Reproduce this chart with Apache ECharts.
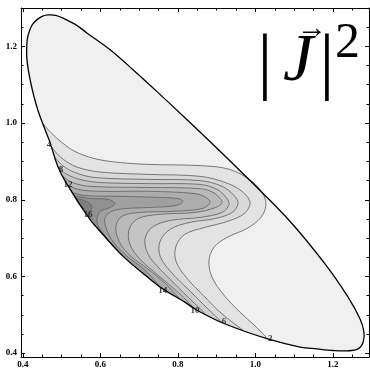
<!DOCTYPE html>
<html><head><meta charset="utf-8">
<script src="https://cdn.jsdelivr.net/npm/echarts@6/dist/echarts.min.js"></script>
<style>html,body{margin:0;padding:0;background:#fff}#c{width:370px;height:369px}</style>
</head><body><div id="c"></div>
<script>
// ---- axis ticks ----
const xTicks = [0.4, 0.6, 0.8, 1.0, 1.2];
const xMinorTicks = [0.45, 0.5, 0.55, 0.65, 0.7, 0.75, 0.85, 0.9, 0.95, 1.05, 1.1, 1.15, 1.25];
const yTicks = [0.4, 0.6, 0.8, 1.0, 1.2];
const yMinorTicks = [0.45, 0.5, 0.55, 0.65, 0.7, 0.75, 0.85, 0.9, 0.95, 1.05, 1.1, 1.15, 1.25];

// ---- domain boundary (clockwise from the top) ----
const boundary = [[0.465,1.282],[0.485,1.281],[0.509,1.271],[0.537,1.256],[0.565,1.235],[0.625,1.191],[0.684,1.139],[0.746,1.082],[0.818,1.014],[0.896,0.939],[0.986,0.850],[1.089,0.744],[1.180,0.632],[1.239,0.546],[1.270,0.489],[1.280,0.455],[1.278,0.429],[1.265,0.411],[1.236,0.406],[1.200,0.407],[1.159,0.411],[1.115,0.416],[1.032,0.437],[0.922,0.476],[0.849,0.512],[0.818,0.533],[0.762,0.567],[0.728,0.593],[0.658,0.653],[0.599,0.718],[0.573,0.749],[0.514,0.840],[0.490,0.887],[0.470,0.949],[0.452,0.996],[0.439,1.032],[0.426,1.079],[0.416,1.126],[0.410,1.170],[0.410,1.204],[0.412,1.223],[0.418,1.243],[0.426,1.259],[0.438,1.271],[0.451,1.279]];

// ---- contour levels and lines ----
const levels = [2, 4, 6, 8, 10, 12, 14, 16, 18];
const c2 = [[0.452,0.998],[0.475,0.972],[0.501,0.949],[0.534,0.926],[0.586,0.907],[0.651,0.897],[0.728,0.892],[0.857,0.889],[0.934,0.879],[0.991,0.848],[1.020,0.814],[1.027,0.785],[1.014,0.754],[0.978,0.725],[0.927,0.702],[0.893,0.676],[0.880,0.640],[0.888,0.598],[0.919,0.551],[0.960,0.507],[0.999,0.471],[1.032,0.437]];
const c4 = [[0.470,0.944],[0.490,0.918],[0.521,0.894],[0.560,0.879],[0.612,0.871],[0.728,0.866],[0.857,0.861],[0.922,0.845],[0.965,0.822],[0.986,0.793],[0.971,0.764],[0.929,0.744],[0.870,0.728],[0.818,0.710],[0.795,0.679],[0.795,0.640],[0.821,0.598],[0.865,0.551],[0.914,0.502],[0.968,0.460]];
const c6 = [[0.483,0.910],[0.503,0.889],[0.534,0.871],[0.586,0.858],[0.728,0.853],[0.857,0.850],[0.914,0.835],[0.945,0.811],[0.955,0.790],[0.940,0.767],[0.896,0.751],[0.831,0.741],[0.780,0.723],[0.754,0.692],[0.754,0.653],[0.780,0.614],[0.831,0.562],[0.883,0.510],[0.914,0.480]];
const c8 = [[0.493,0.881],[0.514,0.866],[0.547,0.853],[0.599,0.845],[0.728,0.842],[0.857,0.840],[0.901,0.827],[0.924,0.806],[0.932,0.788],[0.914,0.767],[0.857,0.754],[0.780,0.746],[0.733,0.728],[0.715,0.697],[0.723,0.658],[0.754,0.619],[0.805,0.567],[0.872,0.501]];
const c10 = [[0.503,0.861],[0.527,0.845],[0.573,0.835],[0.728,0.832],[0.857,0.829],[0.891,0.819],[0.909,0.803],[0.914,0.793],[0.898,0.780],[0.844,0.767],[0.754,0.762],[0.697,0.751],[0.674,0.723],[0.676,0.684],[0.702,0.645],[0.749,0.603],[0.800,0.559],[0.842,0.517]];
const c12 = [[0.514,0.840],[0.542,0.827],[0.599,0.822],[0.728,0.822],[0.844,0.816],[0.872,0.806],[0.883,0.793],[0.862,0.777],[0.792,0.770],[0.702,0.767],[0.656,0.757],[0.640,0.731],[0.648,0.692],[0.676,0.655],[0.723,0.619],[0.767,0.582],[0.805,0.541]];
const c14 = [[0.527,0.819],[0.560,0.811],[0.651,0.809],[0.754,0.806],[0.800,0.803],[0.813,0.796],[0.795,0.785],[0.728,0.780],[0.663,0.777],[0.630,0.770],[0.612,0.754],[0.614,0.728],[0.632,0.692],[0.666,0.655],[0.715,0.616],[0.754,0.573]];
const c16 = [[0.534,0.809],[0.578,0.803],[0.620,0.801],[0.638,0.790],[0.625,0.780],[0.601,0.770],[0.591,0.751],[0.596,0.728],[0.609,0.710],[0.622,0.692]];
const c18 = [[0.537,0.803],[0.563,0.796],[0.578,0.783],[0.573,0.767],[0.568,0.757]];
const contours = [c2, c4, c6, c8, c10, c12, c14, c16, c18];

// ---- contour labels ----
const labelPoints = [[1.038,0.437,'2'],[0.467,0.944,'4'],[0.919,0.481,'6'],[0.498,0.879,'8'],[0.844,0.512,'10'],[0.516,0.840,'12'],[0.761,0.564,'14'],[0.568,0.762,'16']];

// ---- shades ----
const baseShade = '#f0f0f0';
const bandShades = ['#e3e3e3','#d9d9d9','#cfcfcf','#c4c4c4','#b9b9b9','#adadad','#a0a0a0','#909090','#808080'];

function segDist(p, a, b) {
  const dx = b[0]-a[0], dy = b[1]-a[1];
  let t = ((p[0]-a[0])*dx + (p[1]-a[1])*dy) / (dx*dx+dy*dy);
  t = Math.max(0, Math.min(1, t));
  const qx = a[0]+t*dx - p[0], qy = a[1]+t*dy - p[1];
  return qx*qx+qy*qy;
}
function segIndex(p) {
  let best = 0, bd = Infinity;
  for (let i = 0; i < boundary.length; i++) {
    const d = segDist(p, boundary[i], boundary[(i+1) % boundary.length]);
    if (d < bd) { bd = d; best = i; }
  }
  return best;
}
const bandPolys = contours.map(c => {
  const jE = segIndex(c[c.length-1]);
  const jS = segIndex(c[0]);
  const pts = c.slice();
  for (let i = jE+1; i <= jS; i++) pts.push(boundary[i]);
  return pts;
});

const serif = 'Liberation Serif';
const chart = echarts.init(document.getElementById('c'), null, {renderer:'canvas'});

function xAxisDef(pos, major) {
  return {
    type:'value', position:pos, min:0.395, max:1.293,
    axisLine:{show:major, onZero:false, lineStyle:{color:'#000', width:1}},
    axisTick:{show:true, inside:true, length: major ? 4 : 2.5, customValues: major ? xTicks : xMinorTicks, lineStyle:{color:'#000', width:1}},
    axisLabel:{show: major && pos==='bottom', customValues: xTicks, formatter: v => v.toFixed(1), fontFamily:serif, fontWeight:'bold', fontSize:9, color:'#000', margin:3},
    splitLine:{show:false}
  };
}
function yAxisDef(pos, major) {
  return {
    type:'value', position:pos, min:0.39, max:1.30,
    axisLine:{show:major, onZero:false, lineStyle:{color:'#000', width:1}},
    axisTick:{show:true, inside:true, length: major ? 4 : 2.5, customValues: major ? yTicks : yMinorTicks, lineStyle:{color:'#000', width:1}},
    axisLabel:{show: major && pos==='left', customValues: yTicks, formatter: v => v.toFixed(1), fontFamily:serif, fontWeight:'bold', fontSize:9, color:'#000', margin:4},
    splitLine:{show:false}
  };
}

chart.setOption({
  animation:false,
  backgroundColor:'#fff',
  grid:{left:21, right:1, top:8, bottom:11},
  xAxis:[xAxisDef('bottom',true), xAxisDef('bottom',false), xAxisDef('top',true), xAxisDef('top',false)],
  yAxis:[yAxisDef('left',true), yAxisDef('left',false), yAxisDef('right',true), yAxisDef('right',false)],
  graphic:[
    {type:'text', z:100, style:{text:'|', x:265, y:66, textAlign:'center', textVerticalAlign:'middle', font:'74px "Liberation Serif"', fill:'#000'}},
    {type:'text', z:100, style:{text:'J', x:298, y:62, textAlign:'center', textVerticalAlign:'middle', font:'italic 68px "Liberation Serif"', fill:'#000'}},
    {type:'text', z:100, style:{text:'\u2192', x:312, y:29, textAlign:'center', textVerticalAlign:'middle', font:'30px "Liberation Serif"', fill:'#000'}},
    {type:'text', z:100, style:{text:'|', x:327, y:66, textAlign:'center', textVerticalAlign:'middle', font:'74px "Liberation Serif"', fill:'#000'}},
    {type:'text', z:100, style:{text:'2', x:335, y:44, textAlign:'left', textVerticalAlign:'middle', font:'50px "Liberation Serif"', fill:'#000'}}
  ],
  series:[
    {type:'custom', name:'domain', z:1, silent:true, data:[boundary[0]],
      renderItem:(params, api) => ({type:'polygon', shape:{points: boundary.map(p => api.coord(p)), smooth:0.35}, style:{fill:baseShade, stroke:null}})},
    {type:'custom', name:'bands', z:2, silent:true, data: contours.map(c => c[0]),
      renderItem:(params, api) => ({type:'polygon', z2:params.dataIndex, shape:{points: bandPolys[params.dataIndex].map(p => api.coord(p)), smooth:0.35}, style:{fill:bandShades[params.dataIndex], stroke:null}})},
    {type:'custom', name:'contours', z:3, silent:true, data: contours.map(c => c[0]),
      renderItem:(params, api) => ({type:'polyline', shape:{points: contours[params.dataIndex].map(p => api.coord(p)), smooth:0.35}, style:{fill:null, stroke:'#6a6a6a', lineWidth:0.9}})},
    {type:'custom', name:'outline', z:4, silent:true, data:[boundary[0]],
      renderItem:(params, api) => ({type:'polygon', shape:{points: boundary.map(p => api.coord(p)), smooth:0.35}, style:{fill:null, stroke:'#000', lineWidth:1.3}})},
    {type:'scatter', name:'labels', z:5, silent:true, symbolSize:1, itemStyle:{color:'rgba(0,0,0,0)'},
      data: labelPoints,
      label:{show:true, position:'inside', formatter: p => p.data[2], fontFamily:serif, fontWeight:'bold', fontSize:9, color:'#111'}}
  ]
});
</script></body></html>
